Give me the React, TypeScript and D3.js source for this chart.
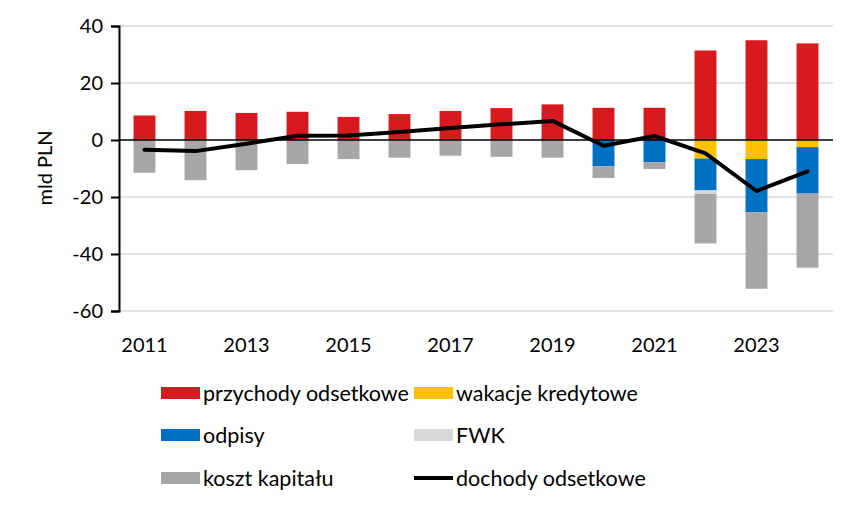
import { useRef, useEffect } from "react";
import * as d3 from "d3";

const YEARS = [2011, 2012, 2013, 2014, 2015, 2016, 2017, 2018, 2019, 2020, 2021, 2022, 2023, 2024];

// mld PLN
const PRZYCHODY = [8.6, 10.2, 9.5, 9.9, 8.1, 9.1, 10.2, 11.2, 12.5, 11.3, 11.3, 31.4, 35.0, 33.9];
const WAKACJE = [0, 0, 0, 0, 0, 0, 0, 0, 0, 0, 0, -6.5, -6.7, -2.5];
const ODPISY = [0, 0, 0, 0, 0, 0, 0, 0, 0, -9.2, -7.8, -11.2, -18.7, -16.3];
const FWK = [0, 0, 0, 0, 0, 0, 0, 0, 0, 0, 0, -1.2, 0, 0];
const KOSZT = [-11.5, -14.1, -10.6, -8.4, -6.7, -6.2, -5.5, -5.9, -6.2, -4.1, -2.4, -17.4, -26.8, -26.0];
const DOCHODY = [-3.4, -3.9, -1.3, 1.5, 1.6, 2.8, 4.2, 5.5, 6.7, -2.0, 1.4, -4.7, -17.9, -11.0];

const Y_TICKS = [40, 20, 0, -20, -40, -60];
const X_LABELS = [2011, 2013, 2015, 2017, 2019, 2021, 2023];

const COLORS = {
  przychody: "#d71920",
  wakacje: "#ffc000",
  odpisy: "#0070c0",
  fwk: "#d9d9d9",
  koszt: "#a6a6a6",
};

const FONT = "Lato, 'Open Sans', sans-serif";

export default function App() {
  const svgRef = useRef<SVGSVGElement>(null);

  useEffect(() => {
    if (!svgRef.current) return;
    const svg = d3.select(svgRef.current);
    svg.selectAll("*").remove();

    const margin = { top: 26, left: 119, right: 23 };
    const width = 856;
    const plotRight = width - margin.right;
    const plotBottom = 311;

    const x = d3
      .scaleBand<number>()
      .domain(YEARS)
      .range([margin.left, plotRight])
      .paddingInner(0.57)
      .paddingOuter(0.285);

    const y = d3.scaleLinear().domain([-60, 40]).range([plotBottom, margin.top]);

    // gridlines
    svg
      .append("g")
      .selectAll("line")
      .data(Y_TICKS.filter((t) => t !== 0))
      .enter()
      .append("line")
      .attr("x1", margin.left)
      .attr("x2", plotRight)
      .attr("y1", (d) => y(d))
      .attr("y2", (d) => y(d))
      .attr("stroke", "#d9d9d9")
      .attr("stroke-width", 1.5);

    // stacked bars: positive + negative stacks
    const negSeries = [
      { key: "wakacje", values: WAKACJE },
      { key: "odpisy", values: ODPISY },
      { key: "fwk", values: FWK },
      { key: "koszt", values: KOSZT },
    ];

    const bars = svg.append("g");
    YEARS.forEach((yr, i) => {
      bars
        .append("rect")
        .attr("x", x(yr)!)
        .attr("width", x.bandwidth())
        .attr("y", y(PRZYCHODY[i]))
        .attr("height", y(0) - y(PRZYCHODY[i]))
        .attr("fill", COLORS.przychody);

      let base = 0;
      negSeries.forEach((s) => {
        const v = s.values[i];
        if (v === 0) return;
        const top = base;
        const bottom = base + v;
        bars
          .append("rect")
          .attr("x", x(yr)!)
          .attr("width", x.bandwidth())
          .attr("y", y(top))
          .attr("height", y(bottom) - y(top))
          .attr("fill", COLORS[s.key as keyof typeof COLORS]);
        base = bottom;
      });
    });

    // zero line
    svg
      .append("line")
      .attr("x1", margin.left)
      .attr("x2", plotRight)
      .attr("y1", y(0))
      .attr("y2", y(0))
      .attr("stroke", "#000")
      .attr("stroke-width", 1.5);

    // y axis
    const yAxis = svg
      .append("g")
      .attr("transform", `translate(${margin.left},0)`)
      .call(
        d3
          .axisLeft(y)
          .tickValues(Y_TICKS)
          .tickFormat((d) => String(d))
          .tickSize(8)
          .tickPadding(8)
      );
    yAxis.select(".domain").attr("stroke", "#000").attr("stroke-width", 2);
    yAxis.selectAll(".tick line").attr("stroke", "#000").attr("stroke-width", 2);
    yAxis
      .selectAll(".tick text")
      .attr("font-family", FONT)
      .attr("font-size", "20px")
      .attr("fill", "#000");

    // x labels
    svg
      .append("g")
      .selectAll("text")
      .data(X_LABELS)
      .enter()
      .append("text")
      .attr("x", (d) => x(d)! + x.bandwidth() / 2)
      .attr("y", 352)
      .attr("text-anchor", "middle")
      .attr("font-family", FONT)
      .attr("font-size", "20px")
      .attr("fill", "#000")
      .text((d) => d);

    // y label
    svg
      .append("text")
      .attr("transform", "translate(52,168) rotate(-90)")
      .attr("text-anchor", "middle")
      .attr("font-family", FONT)
      .attr("font-size", "20px")
      .attr("fill", "#000")
      .text("mld PLN");

    // dochody line
    const line = d3
      .line<number>()
      .x((_, i) => x(YEARS[i])! + x.bandwidth() / 2)
      .y((d) => y(d));
    svg
      .append("path")
      .datum(DOCHODY)
      .attr("d", line)
      .attr("fill", "none")
      .attr("stroke", "#000")
      .attr("stroke-width", 4)
      .attr("stroke-linejoin", "round")
      .attr("stroke-linecap", "round");

    // legend
    const legendItems = [
      { label: "przychody odsetkowe", color: COLORS.przychody, col: 0, row: 0 },
      { label: "wakacje kredytowe", color: COLORS.wakacje, col: 1, row: 0 },
      { label: "odpisy", color: COLORS.odpisy, col: 0, row: 1 },
      { label: "FWK", color: COLORS.fwk, col: 1, row: 1 },
      { label: "koszt kapitału", color: COLORS.koszt, col: 0, row: 2 },
      { label: "dochody odsetkowe", color: "line", col: 1, row: 2 },
    ];
    const colX = [161, 414];
    const rowY = [393, 435, 478];
    legendItems.forEach((it) => {
      const g = svg
        .append("g")
        .attr("transform", `translate(${colX[it.col]},${rowY[it.row]})`);
      if (it.color === "line") {
        g.append("line")
          .attr("x1", 0)
          .attr("x2", 39)
          .attr("stroke", "#000")
          .attr("stroke-width", 4);
      } else {
        g.append("rect")
          .attr("x", 0)
          .attr("y", -6)
          .attr("width", 39)
          .attr("height", 12)
          .attr("fill", it.color);
      }
      g.append("text")
        .attr("x", 42)
        .attr("y", 7.5)
        .attr("font-family", FONT)
        .attr("font-size", "21.5px")
        .attr("fill", "#000")
        .text(it.label);
    });
  }, []);

  return (
    <svg
      ref={svgRef}
      width={856}
      height={509}
      style={{ position: "absolute", left: 0, top: 0, background: "#fff" }}
    />
  );
}
